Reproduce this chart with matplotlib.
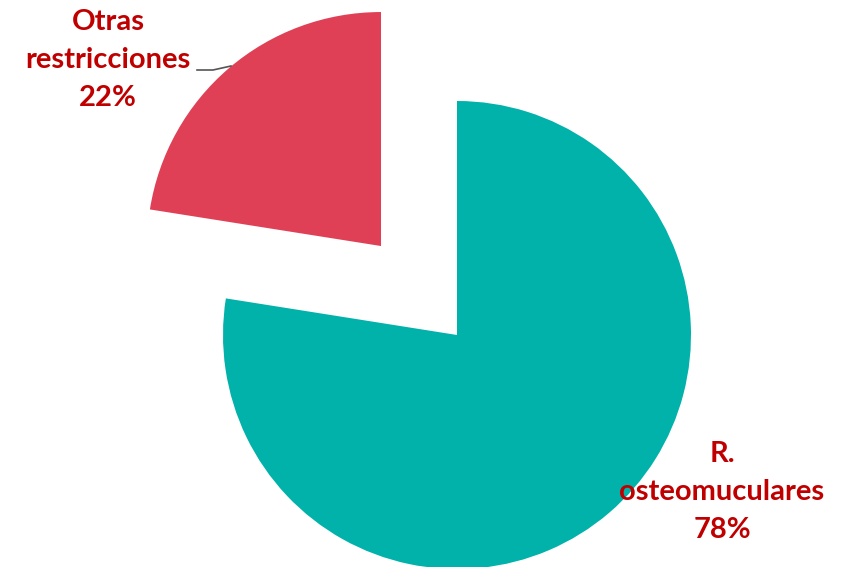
import matplotlib
matplotlib.use("Agg")
import matplotlib.pyplot as plt

# data
categories = ["R.\nosteomuculares", "Otras\nrestricciones"]
shares = [77.5, 22.5]          # slice sizes
pct_labels = ["78%", "22%"]     # percentages as printed on the chart
colors = ["#00B2AA", "#E04055"]
label_pos = [(722, 75), (108, 507)]  # label centres in pixel coords (y up)

W, H = 846, 567
R = 234
fig = plt.figure(figsize=(W / 100, H / 100), dpi=100)
ax = fig.add_axes([0, 0, 1, 1])

# explode is an absolute offset here (data units)
ax.pie(shares, colors=colors, startangle=90, counterclock=False,
       center=(457, 232), radius=R, explode=[0, 0.5 * R], frame=True,
       wedgeprops=dict(linewidth=0))
ax.set_xlim(0, W)
ax.set_ylim(0, H)
ax.set_aspect("equal")
ax.axis("off")

for cat, pct, (x, y) in zip(categories, pct_labels, label_pos):
    ax.text(x, y, f"{cat}\n{pct}", ha="center", va="center",
            fontsize=21, fontweight="bold", color="#C00000",
            family=["Lato", "DejaVu Sans"], linespacing=1.55)

# leader line for the small slice
ax.plot([197, 213, 231], [497, 497, 501], color="#555555", lw=1.2)

fig.savefig("out.png", dpi=100)
